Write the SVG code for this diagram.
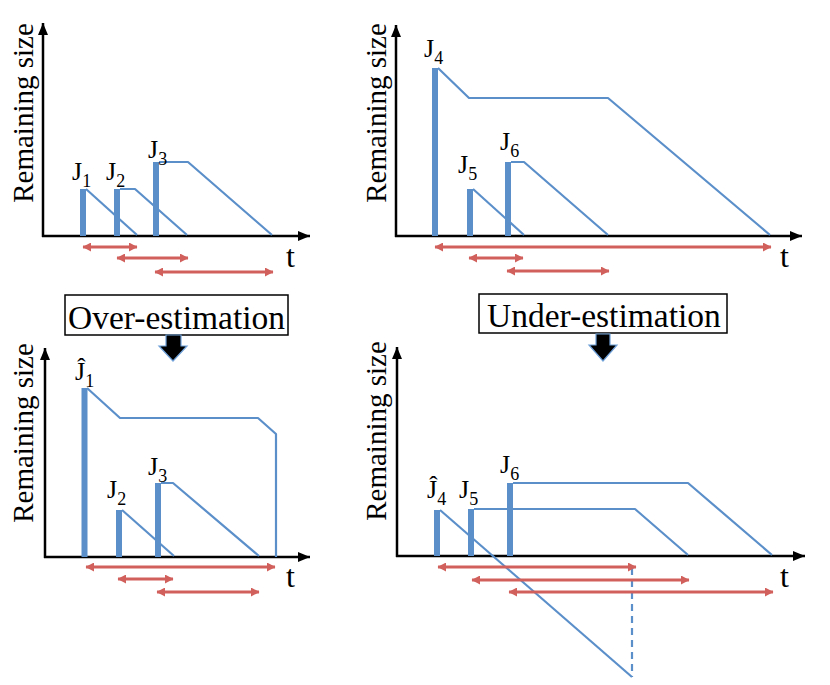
<svg xmlns="http://www.w3.org/2000/svg" width="830" height="685" viewBox="0 0 830 685">
<style>
  text { font-family: "Liberation Serif", "Times New Roman", serif; fill: #000; }
  .axis { stroke: #000; stroke-width: 2.5; fill: none; }
  .bar { stroke: #5b8fca; stroke-width: 6; fill: none; }
  .line { stroke: #5b8fca; stroke-width: 2.2; fill: none; stroke-linejoin: round; }
  .dash { stroke: #5b8fca; stroke-width: 2.2; fill: none; stroke-dasharray: 7 5; }
  .span { stroke: #d1605c; stroke-width: 3; fill: none; marker-start: url(#rh); marker-end: url(#rh); }
  .ylab { font-size: 29px; }
  .tlab { font-size: 32px; }
  .jl { font-size: 26px; }
  .sub { font-size: 18px; }
  .box { fill: #fff; stroke: #000; stroke-width: 1.5; }
  .btxt { font-size: 33.5px; }
  .down { fill: #000; stroke: #6fa0d8; stroke-width: 1.2; }
</style>
<defs>
  <marker id="ax" markerUnits="userSpaceOnUse" markerWidth="13" markerHeight="11" refX="12" refY="5" orient="auto">
    <path d="M0,0 L12,5 L0,10 z" fill="#000"/>
  </marker>
  <marker id="rh" markerUnits="userSpaceOnUse" markerWidth="9" markerHeight="9" refX="8" refY="4.5" orient="auto-start-reverse">
    <path d="M0,0 L8.5,4.5 L0,9 z" fill="#d1605c"/>
  </marker>
</defs>

<!-- Top-left panel -->
<g id="panel-tl">
  <g id="tl-axes">
    <line class="axis" x1="43" y1="237" x2="43" y2="23" marker-end="url(#ax)"/>
    <line class="axis" x1="42" y1="236" x2="310" y2="236" marker-end="url(#ax)"/>
    <text class="ylab" transform="translate(33,113) rotate(-90)" text-anchor="middle">Remaining size</text>
    <text class="tlab" x="286" y="267">t</text>
  </g>
  <g id="tl-j1">
    <line class="bar" x1="83" y1="236" x2="83" y2="189"/>
    <polyline class="line" points="86,189 137,235"/>
    <text class="jl" x="72" y="180">J<tspan class="sub" dy="7">1</tspan></text>
  </g>
  <g id="tl-j2">
    <line class="bar" x1="117" y1="236" x2="117" y2="189"/>
    <polyline class="line" points="120,189 135,189 187,235"/>
    <text class="jl" x="106" y="180">J<tspan class="sub" dy="7">2</tspan></text>
  </g>
  <g id="tl-j3">
    <line class="bar" x1="156" y1="236" x2="156" y2="162"/>
    <polyline class="line" points="159,162 188,162 272,235"/>
    <text class="jl" x="148" y="158">J<tspan class="sub" dy="7">3</tspan></text>
  </g>
</g>

<!-- Top-right panel -->
<g id="panel-tr">
  <g id="tr-axes">
    <line class="axis" x1="396" y1="237" x2="396" y2="25" marker-end="url(#ax)"/>
    <line class="axis" x1="395" y1="236" x2="802" y2="236" marker-end="url(#ax)"/>
    <text class="ylab" transform="translate(386,113) rotate(-90)" text-anchor="middle">Remaining size</text>
    <text class="tlab" x="780" y="267">t</text>
  </g>
  <g id="tr-j4">
    <line class="bar" x1="435" y1="236" x2="435" y2="68"/>
    <polyline class="line" points="438,68 469,98 608,98 770,235"/>
    <text class="jl" x="424" y="57">J<tspan class="sub" dy="7">4</tspan></text>
  </g>
  <g id="tr-j5">
    <line class="bar" x1="470" y1="236" x2="470" y2="189"/>
    <polyline class="line" points="473,189 524,235"/>
    <text class="jl" x="458" y="173">J<tspan class="sub" dy="7">5</tspan></text>
  </g>
  <g id="tr-j6">
    <line class="bar" x1="508" y1="236" x2="508" y2="162"/>
    <polyline class="line" points="511,162 524,162 608,235"/>
    <text class="jl" x="500" y="150">J<tspan class="sub" dy="7">6</tspan></text>
  </g>
</g>

<!-- Bottom-left panel -->
<g id="panel-bl">
  <g id="over-estimation">
    <rect class="box" x="65" y="295" width="223" height="40"/>
    <text class="btxt" x="68" y="329">Over-estimation</text>
  </g>
  <g id="bl-axes">
    <line class="axis" x1="45" y1="558" x2="45" y2="348" marker-end="url(#ax)"/>
    <line class="axis" x1="44" y1="557" x2="310" y2="557" marker-end="url(#ax)"/>
    <text class="ylab" transform="translate(33,433) rotate(-90)" text-anchor="middle">Remaining size</text>
    <text class="tlab" x="286" y="587">t</text>
  </g>
  <g id="bl-j1">
    <line class="bar" x1="84.5" y1="557" x2="84.5" y2="388"/>
    <polyline class="line" points="87,388 120,418 258,418 276,434 276,557"/>
    <text class="jl" x="75" y="380">Ĵ<tspan class="sub" dy="7">1</tspan></text>
  </g>
  <g id="bl-j2">
    <line class="bar" x1="119" y1="557" x2="119" y2="510"/>
    <polyline class="line" points="122,510 174,556"/>
    <text class="jl" x="107" y="498">J<tspan class="sub" dy="7">2</tspan></text>
  </g>
  <g id="bl-j3">
    <line class="bar" x1="158" y1="557" x2="158" y2="483"/>
    <polyline class="line" points="161,483 173,483 259,556"/>
    <text class="jl" x="148" y="475">J<tspan class="sub" dy="7">3</tspan></text>
  </g>
</g>

<!-- Bottom-right panel -->
<g id="panel-br">
  <g id="under-estimation">
    <rect class="box" x="479" y="294" width="248" height="39"/>
    <text class="btxt" x="487" y="327">Under-estimation</text>
  </g>
  <g id="br-axes">
    <line class="axis" x1="397" y1="557" x2="397" y2="347" marker-end="url(#ax)"/>
    <line class="axis" x1="396" y1="556" x2="805" y2="556" marker-end="url(#ax)"/>
    <text class="ylab" transform="translate(386,431) rotate(-90)" text-anchor="middle">Remaining size</text>
    <text class="tlab" x="780" y="587">t</text>
  </g>
  <g id="br-j4">
    <line class="bar" x1="437" y1="556" x2="437" y2="510"/>
    <polyline class="line" points="440,510 632,677"/>
    <line class="dash" x1="632" y1="568" x2="632" y2="677"/>
    <text class="jl" x="427" y="498">Ĵ<tspan class="sub" dy="7">4</tspan></text>
  </g>
  <g id="br-j5">
    <line class="bar" x1="471" y1="556" x2="471" y2="509"/>
    <polyline class="line" points="474,509 635,509 688,555"/>
    <text class="jl" x="459" y="498">J<tspan class="sub" dy="7">5</tspan></text>
  </g>
  <g id="br-j6">
    <line class="bar" x1="510" y1="556" x2="510" y2="483"/>
    <polyline class="line" points="513,483 688,483 772,555"/>
    <text class="jl" x="500" y="473">J<tspan class="sub" dy="7">6</tspan></text>
  </g>
</g>

<!-- Connectors: response-time spans and block arrows -->
<g id="connectors">
  <line class="span" x1="83" y1="247" x2="137" y2="247"/>
  <line class="span" x1="117" y1="258" x2="188" y2="258"/>
  <line class="span" x1="155" y1="272" x2="273" y2="272"/>

  <line class="span" x1="435" y1="247" x2="771" y2="247"/>
  <line class="span" x1="469" y1="258" x2="523" y2="258"/>
  <line class="span" x1="507" y1="271" x2="609" y2="271"/>

  <line class="span" x1="86" y1="567" x2="275" y2="567"/>
  <line class="span" x1="118" y1="579" x2="173" y2="579"/>
  <line class="span" x1="157" y1="592" x2="259" y2="592"/>

  <line class="span" x1="438" y1="567" x2="636" y2="567"/>
  <line class="span" x1="472" y1="580" x2="689" y2="580"/>
  <line class="span" x1="509" y1="592" x2="773" y2="592"/>

  <polygon class="down" points="166,335 181,335 181,346 187,346 173,361 159,346 166,346"/>
  <polygon class="down" points="596,334 610,334 610,345 617,345 603,361 589,345 596,345"/>
</g>
</svg>
